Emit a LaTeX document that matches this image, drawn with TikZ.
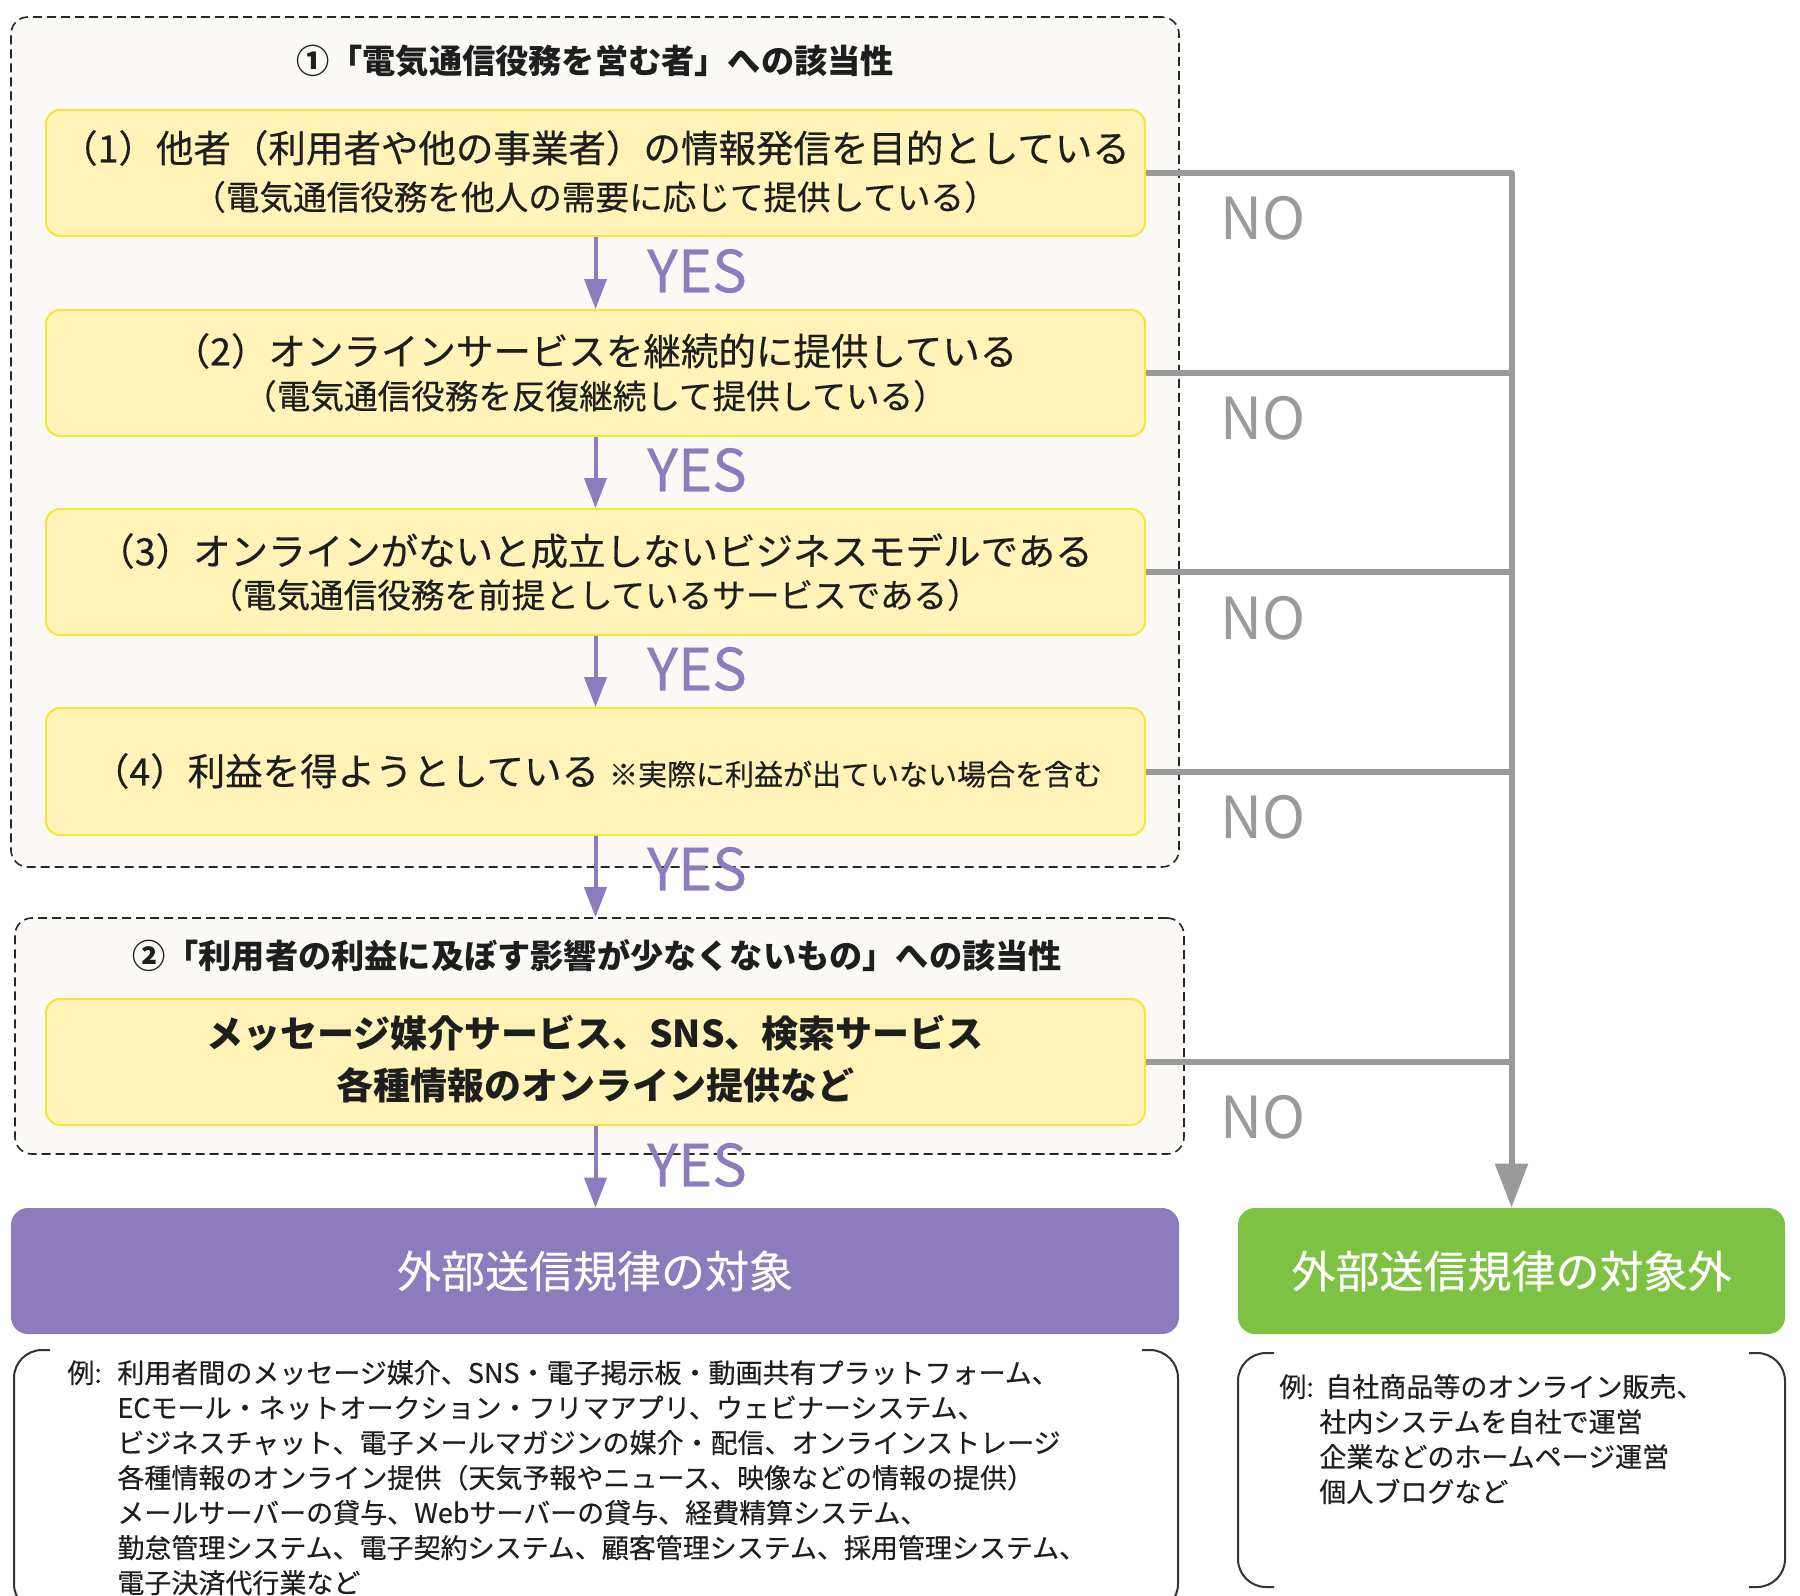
\documentclass[tikz,border=0pt]{standalone}
\usepackage{fontspec}
\setmainfont{Noto Sans CJK JP}
\newfontfamily\medfont[FakeBold=0.4]{Noto Sans CJK JP}
\usetikzlibrary{arrows.meta,fit}
\definecolor{dfill}{HTML}{FAF9F6}
\definecolor{yfill}{HTML}{FFF3B8}
\definecolor{yborder}{HTML}{F6E636}
\definecolor{purp}{HTML}{8C7BBD}
\definecolor{grn}{HTML}{7DC243}
\definecolor{gline}{HTML}{9A9A9A}
\definecolor{txt}{HTML}{1E1E1E}
\begin{document}
\begin{tikzpicture}[x=0.5pt,y=-0.5pt,
  dbox/.style={draw=black!85, dash pattern=on 4.5pt off 2.5pt, line width=0.8pt, rounded corners=8.5pt, fill=dfill, inner sep=0pt},
  ybox/.style={draw=yborder, line width=1pt, fill=yfill, rounded corners=7pt, inner sep=0pt},
  rbox/.style={rounded corners=8.5pt, inner sep=0pt, draw=none},
  ttl/.style={font=\fontsize{16.6}{18}\selectfont\bfseries, text=txt, inner sep=0pt},
  maintxt/.style={font=\medfont\fontsize{18.75}{20}\selectfont, text=txt, inner sep=0pt},
  subtxt/.style={font=\medfont\fontsize{16.8}{18}\selectfont, text=txt, inner sep=0pt},
  boldtxt/.style={font=\fontsize{18.5}{20}\selectfont\bfseries, text=txt, inner sep=0pt},
  restxt/.style={font=\medfont\fontsize{22}{24}\selectfont, text=white, inner sep=0pt},
  yeslbl/.style={font=\medfont\fontsize{29}{30}\selectfont, text=purp, inner sep=0pt},
  nolbl/.style={font=\fontsize{29}{30}\selectfont, text=gline, inner sep=0pt},
  extxt/.style={font=\medfont\fontsize{13.5}{17.5}\selectfont, text=txt, inner sep=0pt, anchor=north west},
  parrow/.style={draw=purp, line width=2pt, -{Triangle[width=11pt,length=15pt]}},
  gl/.style={draw=gline, line width=3pt},
  garrow/.style={draw=gline, line width=3pt, line join=round, -{Triangle[width=16pt,length=22pt]}},
  brk/.style={draw=black!80, line width=1pt, rounded corners=14pt}
]
\useasboundingbox (0,0) rectangle (1800,1596);
\clip (0,0) rectangle (1800,1596);

% dashed groups
\node[dbox, fit={(11,17)(1179,867)}] (d1) {};
\node[dbox, fit={(15,918)(1184,1154)}] (d2) {};

\node[ttl] (t1) at (595,61) {①「電気通信役務を営む者」への該当性};
\node[ttl] (t2) at (597,956) {②「利用者の利益に及ぼす影響が少なくないもの」への該当性};

% yellow boxes
\node[ybox, fit={(46,110)(1145,236)}] (b1) {};
\node[ybox, fit={(46,310)(1145,436)}] (b2) {};
\node[ybox, fit={(46,509)(1145,635)}] (b3) {};
\node[ybox, fit={(46,708)(1145,835)}] (b4) {};
\node[ybox, fit={(46,999)(1145,1125)}] (b5) {};

\node[maintxt] (b1m) at (595,148) {（1）他者（利用者や他の事業者）の情報発信を目的としている};
\node[subtxt] (b1s) at (595,197) {（電気通信役務を他人の需要に応じて提供している）};
\node[maintxt] (b2m) at (595,351) {（2）オンラインサービスを継続的に提供している};
\node[subtxt] (b2s) at (595,396) {（電気通信役務を反復継続して提供している）};
\node[maintxt] (b3m) at (595,551) {（3）オンラインがないと成立しないビジネスモデルである};
\node[subtxt] (b3s) at (595,595) {（電気通信役務を前提としているサービスである）};
\node[maintxt] (b4m) at (597,771) {（4）利益を得ようとしている\hspace{5pt}{\fontsize{14.5}{16}\selectfont ※実際に利益が出ていない場合を含む}};
\node[boldtxt] (b5a) at (595,1033) {メッセージ媒介サービス、SNS、検索サービス};
\node[boldtxt] (b5b) at (595,1085) {各種情報のオンライン提供など};

% result boxes
\node[rbox, fill=purp, fit={(11,1208)(1179,1334)}] (P) {};
\node[rbox, fill=grn, fit={(1238,1208)(1785,1334)}] (G) {};
\node[restxt] (Pt) at (P.center) {外部送信規律の対象};
\node[restxt] (Gt) at (G.center) {外部送信規律の対象外};

% YES arrows
\draw[parrow] (b1.south) -- (b2.north);
\draw[parrow] (b2.south) -- (b3.north);
\draw[parrow] (b3.south) -- (b4.north);
\draw[parrow] (b4.south) -- (d2.north -| b4.south);
\draw[parrow] (b5.south) -- (P.north -| b5.south);

\node[yeslbl] (y1) at (697,271) {YES};
\node[yeslbl] (y2) at (697,470) {YES};
\node[yeslbl] (y3) at (697,669) {YES};
\node[yeslbl] (y4) at (697,869) {YES};
\node[yeslbl] (y5) at (697,1165) {YES};

% NO lines
\coordinate (c1) at (b1.east -| G.north);
\draw[gl] (b2.east) -- (b2.east -| G.north);
\draw[gl] (b3.east) -- (b3.east -| G.north);
\draw[gl] (b4.east) -- (b4.east -| G.north);
\draw[gl] (b5.east) -- (b5.east -| G.north);
\draw[garrow] (b1.east) -- (c1) -- (G.north);

\node[nolbl] (n1) at (1263,218) {NO};
\node[nolbl] (n2) at (1263,418) {NO};
\node[nolbl] (n3) at (1263,618) {NO};
\node[nolbl] (n4) at (1263,817) {NO};
\node[nolbl] (n5) at (1263,1117) {NO};

% example brackets
\draw[brk] (50,1350) -- (14,1350) -- (14,1612) -- (50,1612);
\draw[brk] (1142,1350) -- (1178,1350) -- (1178,1612) -- (1142,1612);
\draw[brk] (1274,1353) -- (1238,1353) -- (1238,1587) -- (1274,1587);
\draw[brk] (1749,1353) -- (1785,1353) -- (1785,1587) -- (1749,1587);

\node[extxt] (ex1) at (67,1358) {\begin{tabular}{@{}p{25pt}@{}l@{}}
例: & 利用者間のメッセージ媒介、SNS・電子掲示板・動画共有プラットフォーム、\\
 & ECモール・ネットオークション・フリマアプリ、ウェビナーシステム、\\
 & ビジネスチャット、電子メールマガジンの媒介・配信、オンラインストレージ\\
 & 各種情報のオンライン提供（天気予報やニュース、映像などの情報の提供）\\
 & メールサーバーの貸与、Webサーバーの貸与、経費精算システム、\\
 & 勤怠管理システム、電子契約システム、顧客管理システム、採用管理システム、\\
 & 電子決済代行業など
\end{tabular}};
\node[extxt] (ex2) at (1279,1372) {\begin{tabular}{@{}p{20pt}@{}l@{}}
例: & \hspace{3pt}自社商品等のオンライン販売、\\
 & 社内システムを自社で運営\\
 & 企業などのホームページ運営\\
 & 個人ブログなど
\end{tabular}};
\end{tikzpicture}
\end{document}
